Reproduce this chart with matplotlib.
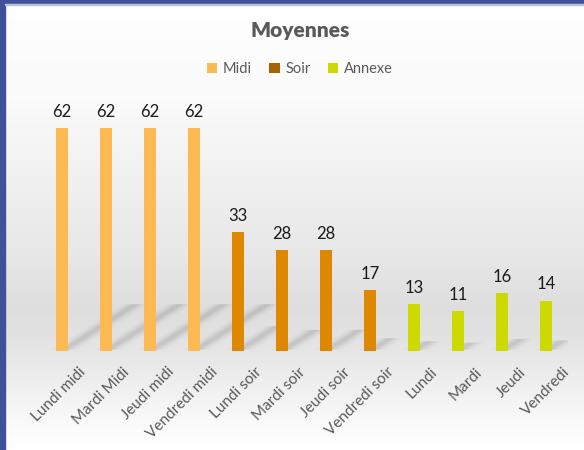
import numpy as np
import matplotlib
matplotlib.use("Agg")
import matplotlib.pyplot as plt
from matplotlib.patches import Rectangle, Polygon, Patch
import matplotlib.transforms as mtransforms

plt.rcParams['font.family'] = ['Lato', 'DejaVu Sans']

categories = ["Lundi midi", "Mardi Midi", "Jeudi midi", "Vendredi midi",
              "Lundi soir", "Mardi soir", "Jeudi soir", "Vendredi soir",
              "Lundi", "Mardi", "Jeudi", "Vendredi"]
values = [62, 62, 62, 62, 33, 28, 28, 17, 13, 11, 16, 14]
groups = ["Midi"] * 4 + ["Soir"] * 4 + ["Annexe"] * 4
series_names = ["Midi", "Soir", "Annexe"]

bar_colors = {"Midi": "#FDB952", "Soir": "#DE8800", "Annexe": "#CDD900"}
legend_colors = {"Midi": "#FDB952", "Soir": "#A66300", "Annexe": "#CCDA00"}

W, H = 584, 450
fig = plt.figure(figsize=(W / 100, H / 100), dpi=100)

# background gradient
bg = fig.add_axes([0, 0, 1, 1], zorder=-10)
py = np.arange(450)
stops = [(0, 255), (100, 250), (250, 232), (310, 222), (345, 228), (380, 238), (430, 252), (450, 255)]
g = np.interp(py, [s[0] for s in stops], [s[1] for s in stops]) / 255.0
img = np.tile(g[:, None, None], (1, 2, 3))
bg.imshow(img, aspect='auto', extent=[0, 1, 0, 1], origin='upper', interpolation='bilinear')
bg.set_axis_off()

# border
fig.patches.append(Rectangle((0, 0), 5 / W, 1, transform=fig.transFigure, color="#3F5199", zorder=5))
fig.patches.append(Rectangle((0, 1 - 4 / H), 1, 4 / H, transform=fig.transFigure, color="#3F5199", zorder=5))
fig.patches.append(Rectangle((5 / W, 1 - 5 / H), 1, 1 / H, transform=fig.transFigure, color="#B8C0DA", zorder=5))

ax = fig.add_axes([40 / W, 99 / H, 528 / W, 252 / H])
ax.set_facecolor("none")
x = np.arange(len(categories))
bw = 0.27

# shadows
for xi, v in zip(x, values):
    dx = 0.027 * v
    dy = 0.21 * v
    for k, (wf, a) in enumerate([(2.2, 0.02), (1.6, 0.03), (1.1, 0.045), (0.6, 0.065)]):
        hw = bw / 2 * wf
        poly = Polygon([(xi - hw + 0.05, 0.3), (xi + hw + 0.05, 0.3),
                        (xi + hw + dx, dy), (xi - hw + dx, dy)],
                       closed=True, facecolor="#303030", edgecolor="none", alpha=a, zorder=1)
        ax.add_patch(poly)

ax.bar(x, values, width=bw, color=[bar_colors[gname] for gname in groups], zorder=3)
for xi, v in zip(x, values):
    ax.annotate(str(v), (xi, v), xytext=(0, 8), textcoords="offset points",
                ha="center", va="baseline", fontsize=12, color="#1a1a1a", zorder=4)

ax.set_xlim(-0.5, len(categories) - 0.5)
ax.set_ylim(0, 70)
ax.set_yticks([])
ax.set_xticks(x)
ax.set_xticklabels(categories, rotation=45, ha="right", rotation_mode="anchor",
                   fontsize=11, color="#595959")
ax.tick_params(axis="x", length=0, pad=10)
offset = mtransforms.ScaledTranslation(12 / 72, 0, fig.dpi_scale_trans)
for lab in ax.get_xticklabels():
    lab.set_transform(lab.get_transform() + offset)
for s in ax.spines.values():
    s.set_visible(False)

fig.text(300 / W, 1 - 31 / H, "Moyennes", ha="center", va="center",
         fontsize=15, fontweight="heavy", color="#595959")
handles = [Patch(facecolor=legend_colors[n], edgecolor="none", label=n) for n in series_names]
leg = fig.legend(handles=handles, loc="center", bbox_to_anchor=(300 / W, 1 - 69 / H),
                 ncol=3, frameon=False, fontsize=10.5, handlelength=0.7, handleheight=0.7,
                 handletextpad=0.4, columnspacing=1.2)
for t in leg.get_texts():
    t.set_color("#595959")

fig.savefig("out.png", dpi=100)
